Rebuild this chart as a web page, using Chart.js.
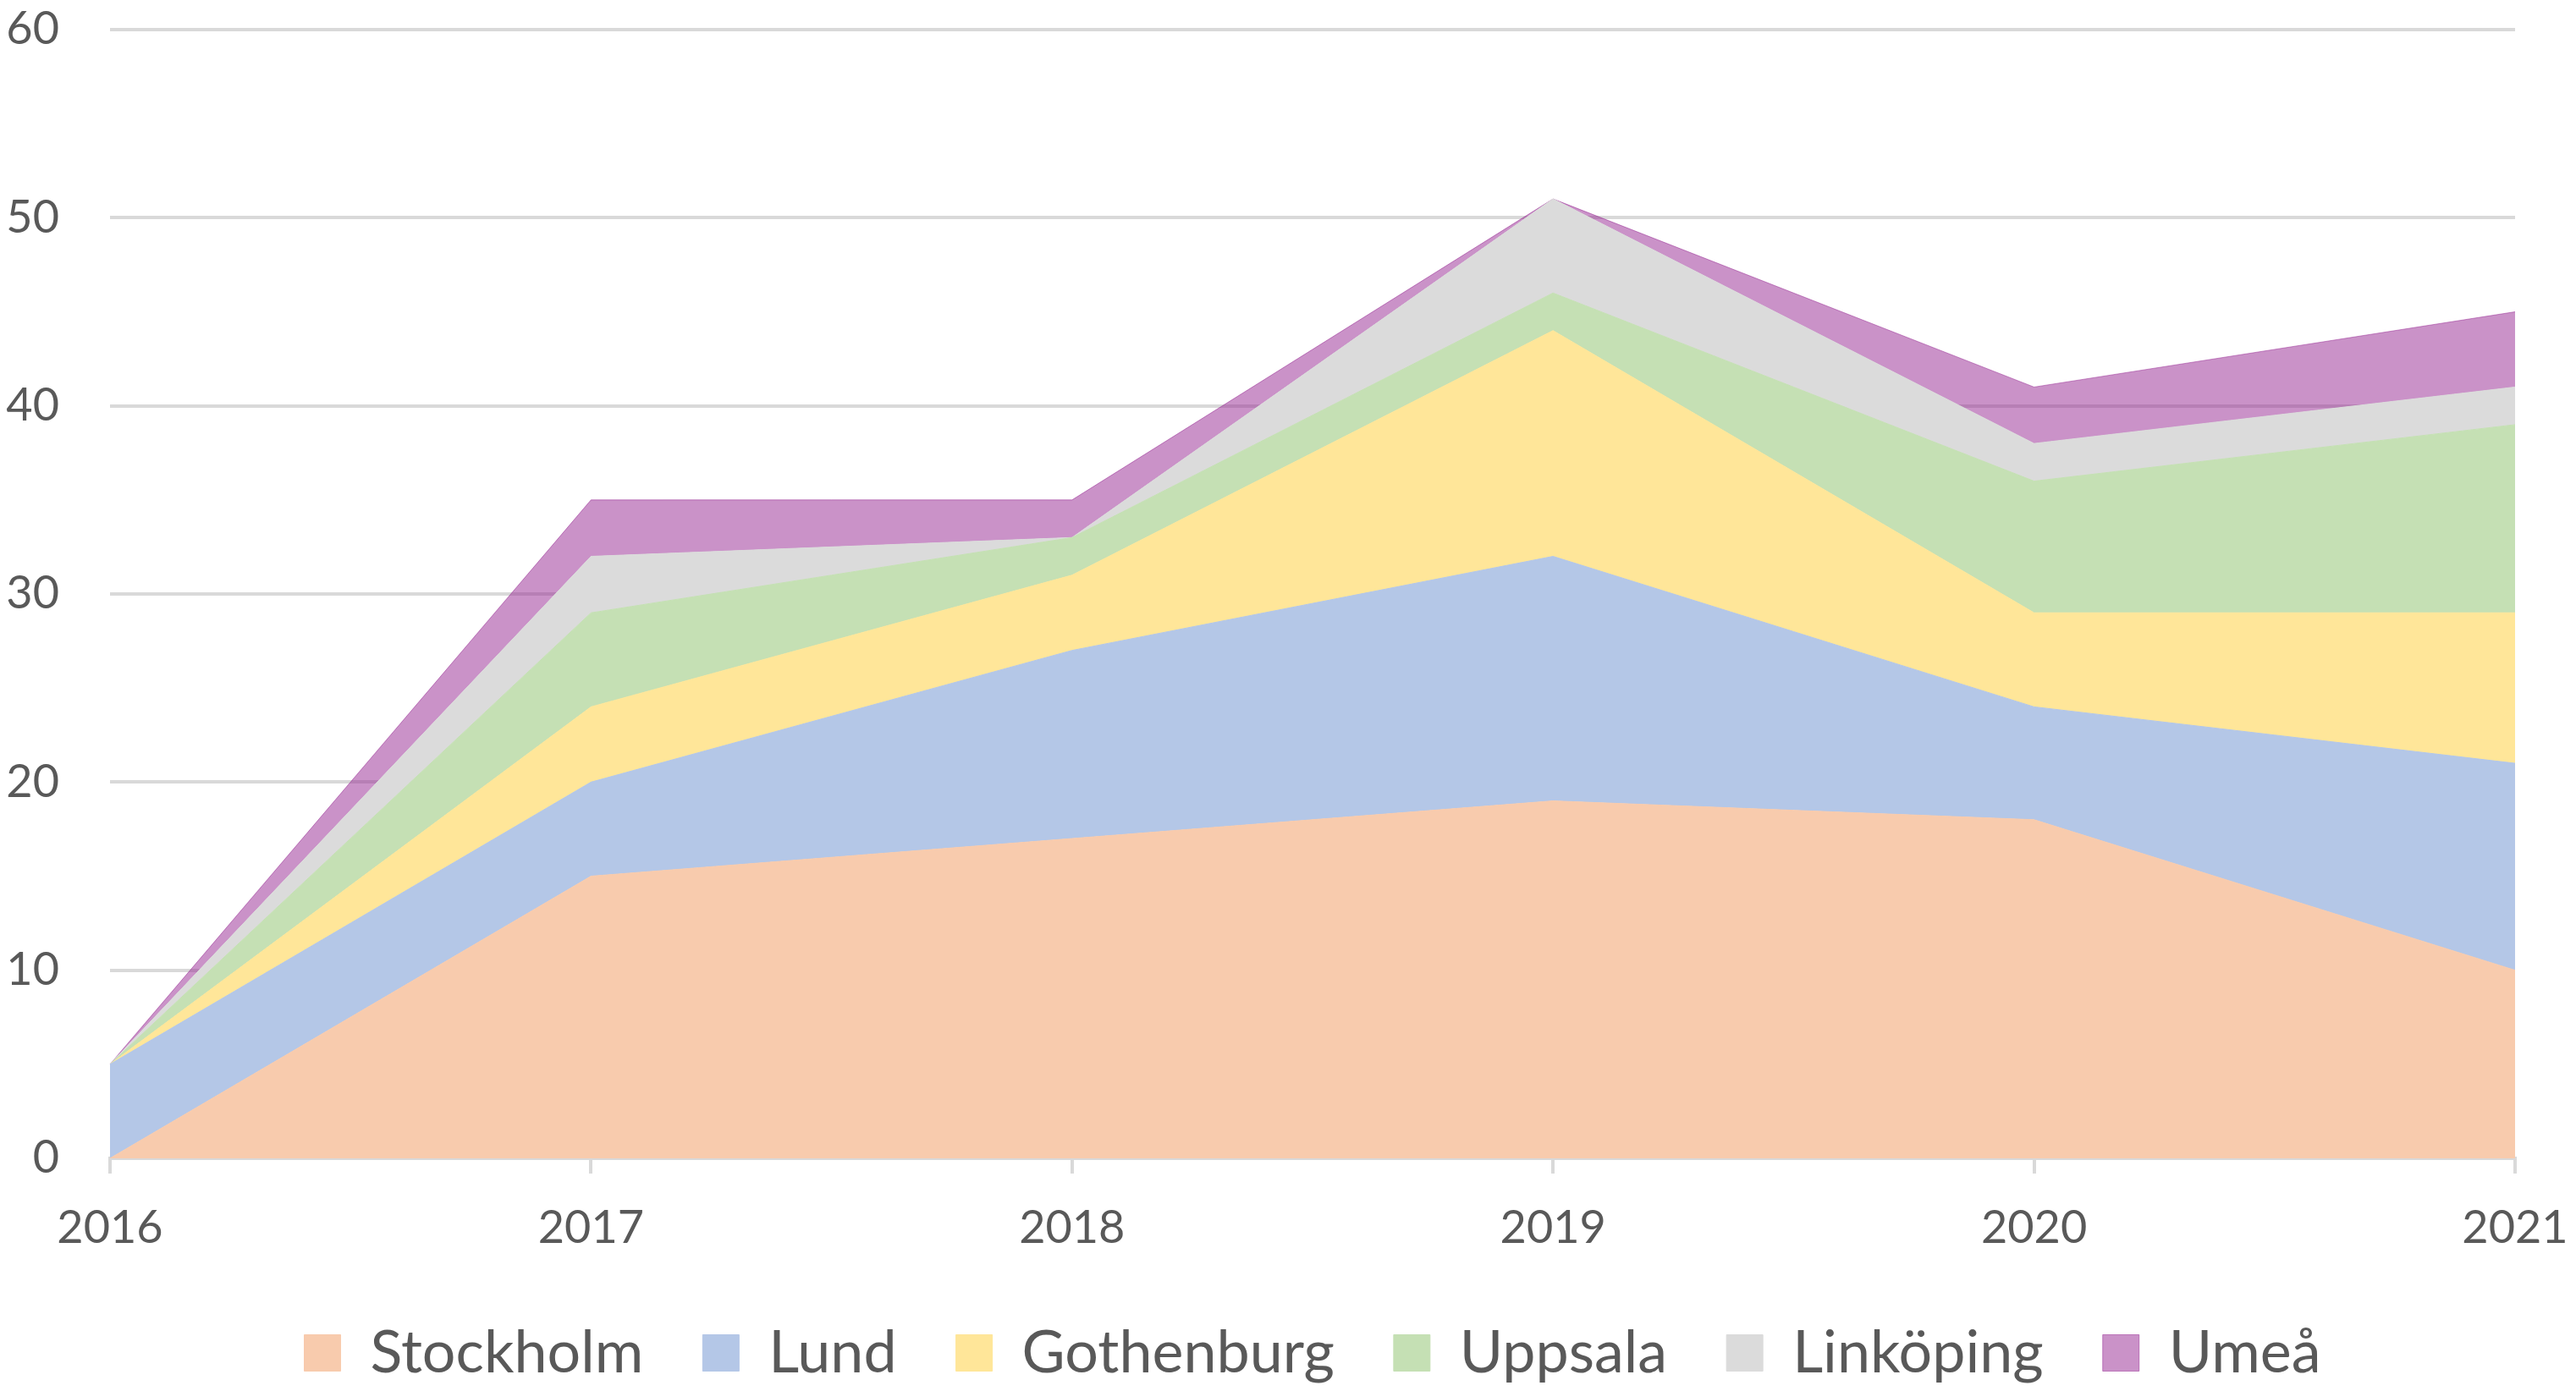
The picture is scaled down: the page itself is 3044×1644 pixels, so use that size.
<!DOCTYPE html>
<html>
<head>
<meta charset="utf-8">
<script src="https://cdn.jsdelivr.net/npm/chart.js@4/dist/chart.umd.min.js"></script>
<style>
  html, body { margin: 0; padding: 0; background: #ffffff; }
  #wrap { width: 3044px; height: 1644px; }
</style>
</head>
<body>
<div id="wrap"><canvas id="areaChart"></canvas></div>
<script>
// === DATA ===
const years = ['2016', '2017', '2018', '2019', '2020', '2021'];
const stockholm  = [0, 15, 17, 19, 18, 10];
const lund       = [5, 5, 10, 13, 6, 11];
const gothenburg = [0, 4, 4, 12, 5, 8];
const uppsala    = [0, 5, 2, 2, 7, 10];
const linkoping  = [0, 3, 0, 5, 2, 2];
const umea       = [0, 3, 2, 0, 3, 4];
const yTicks = [0, 10, 20, 30, 40, 50, 60];

const FONT = 'Lato, "Open Sans", sans-serif';
const TEXT = '#595959';
const GRID = '#d9d9d9';

function area(label, data, color, fill) {
  return {
    label: label,
    data: data,
    backgroundColor: color,
    borderColor: color,
    borderWidth: 1,
    pointRadius: 0,
    tension: 0,
    fill: fill
  };
}

const ctx = document.getElementById('areaChart').getContext('2d');

new Chart(ctx, {
  type: 'line',
  data: {
    labels: years,
    datasets: [
      area('Stockholm', stockholm, '#f8cbad', 'origin'),
      area('Lund', lund, '#b4c7e7', '-1'),
      area('Gothenburg', gothenburg, '#ffe699', '-1'),
      area('Uppsala', uppsala, '#c5e0b4', '-1'),
      area('Linköping', linkoping, '#dbdbdb', '-1'),
      area('Umeå', umea, 'rgba(149, 37, 145, 0.5)', '-1')
    ]
  },
  options: {
    responsive: true,
    maintainAspectRatio: false,
    devicePixelRatio: 1,
    animation: false,
    layout: { padding: { top: 35, right: 0, bottom: 0, left: 0 } },
    plugins: {
      tooltip: { enabled: false },
      legend: {
        position: 'bottom',
        fullSize: false,
        labels: {
          color: TEXT,
          font: { family: FONT, size: 70 },
          boxWidth: 43,
          boxHeight: 43,
          padding: 70
        }
      }
    },
    scales: {
      x: {
        offset: false,
        grid: {
          drawOnChartArea: false,
          drawTicks: true,
          tickLength: 18,
          lineWidth: 4,
          color: GRID,
          offset: false
        },
        border: { display: true, color: GRID, width: 4 },
        ticks: {
          color: TEXT,
          font: { family: FONT, size: 54 },
          padding: 32,
          maxRotation: 0,
          autoSkip: false
        },
        afterFit: scale => {
          scale.height = 125;
          scale.paddingLeft = 0;
          scale.paddingRight = 72;
        }
      },
      y: {
        stacked: true,
        min: 0,
        max: 60,
        afterBuildTicks: scale => { scale.ticks = yTicks.map(v => ({ value: v })); },
        grid: { drawTicks: false, lineWidth: 4, color: GRID },
        border: { display: false },
        ticks: {
          color: TEXT,
          font: { family: FONT, size: 54 },
          padding: 60
        },
        afterFit: scale => {
          scale.width = 130;
          scale.paddingTop = 0;
          scale.paddingBottom = 0;
        }
      }
    }
  }
});
</script>
</body>
</html>
